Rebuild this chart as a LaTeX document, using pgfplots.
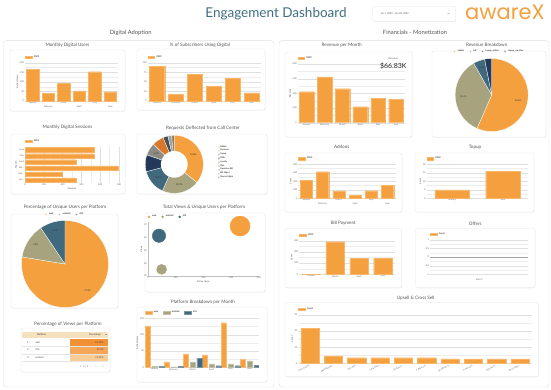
\documentclass[border=0pt]{standalone}
\usepackage{fontspec}
\setmainfont{Lato}
\newfontfamily\logofont{Poppins}
\usepackage{pgfplots}
\pgfplotsset{compat=1.18}
\usetikzlibrary{shadows}
\definecolor{org}{HTML}{F4A03F}
\definecolor{orgl}{HTML}{F7B66A}
\definecolor{olv}{HTML}{A6A37E}
\definecolor{tl}{HTML}{41697D}
\definecolor{nvy}{HTML}{22395A}
\definecolor{gry}{HTML}{8C8C84}
\definecolor{dorg}{HTML}{D9772B}
\definecolor{dgry}{HTML}{4E4E4E}
\definecolor{lblu}{HTML}{8FA3B3}
\definecolor{brn}{HTML}{9C7E55}
\definecolor{ttl}{HTML}{3F6E80}
\definecolor{txt}{HTML}{555555}
\definecolor{tc1}{HTML}{F29036}
\definecolor{tc2}{HTML}{F5A657}
\definecolor{tc3}{HTML}{F9CB95}
\definecolor{thd}{HTML}{F6E1BF}
\newcommand\fs[1]{\fontsize{#1}{#1}\selectfont}
\newcommand\pieslice[3]{\addplot[fill=#3, draw=white, line width=0.3pt, domain=#1:#2, samples=40, pieleg] ({cos(90-3.6*x)},{sin(90-3.6*x)}) -- (axis cs:0,0) -- cycle;}
\newcommand\plabel[3]{\node[font=\fs{2.3}, text=black!80] at (axis cs:{#2*cos(90-3.6*#1)},{#2*sin(90-3.6*#1)}) {#3};}
\tikzset{card/.style={draw=black!10, fill=white, rounded corners=2pt, line width=0.3pt, drop shadow={opacity=0.12, shadow xshift=0.4pt, shadow yshift=-0.6pt}},
  ctitle/.style={font=\fs{4.6}, text=txt}}
\newcommand\card[4]{\draw[card] (#1pt,-#2pt) rectangle (#3pt,-#4pt);}
\newcommand\ctitle[3]{\node[ctitle] at (#1pt,-#2pt) {#3};}
\pgfplotsset{
  pos/.style 2 args={at={(#1pt,-#2pt)}, anchor=north west},
  base/.style={scale only axis, axis line style={draw=none}, tick style={draw=none}, major tick length=0pt, minor tick length=0pt,
    tick label style={font=\fs{2.3}, text=black!60},
    xticklabel style={inner sep=0.8pt}, yticklabel style={inner sep=0.8pt},
    label style={font=\fs{2.3}, text=black!70, inner sep=0.8pt},
    /pgf/number format/assume math mode=true,
    grid style={line width=0.25pt, draw=black!12},
    minor grid style={line width=0.25pt, draw=black!7},
    legend style={font=\fs{2.3}, draw=none, fill=none, legend columns=-1, at={(0,1)}, anchor=south west, inner sep=0pt, outer sep=0pt, yshift=2pt, /tikz/every even column/.append style={column sep=3pt}},
    legend cell align=left},
  vbars/.style={base, ybar, ymajorgrids, yminorgrids, minor y tick num=1, ymin=0, xtick=data},
  barorg/.style={fill=org, draw=orgl, line width=0.25pt, legend image code/.code={\fill[##1] (0pt,-1.1pt) rectangle (6.5pt,1.1pt);}},
  barc/.style={fill=#1, draw=#1!70!white, line width=0.25pt, legend image code/.code={\fill[##1] (0pt,-1.1pt) rectangle (6.5pt,1.1pt);}},
  pieleg/.style={legend image code/.code={\fill[##1] (1pt,0pt) circle (1pt);}},
  dotleg/.style={legend image code/.code={\fill[##1] (1pt,0pt) circle (1pt);}},
}
\begin{document}
\begin{tikzpicture}
\useasboundingbox (0,0) rectangle (551pt,-389pt);
\fill[white] (0,0) rectangle (551pt,-389pt);
% header
\node[font=\fs{13.5}, text=ttl] at (276pt,-13.4pt) {Engagement Dashboard};
\draw[card] (372.7pt,-6.4pt) rectangle (455.8pt,-21.2pt);
\node[font=\fs{2.4}, text=black!70, anchor=west] at (377pt,-13.8pt) {Jan 1, 2022 - Jun 30, 2022};
\draw[black!50, line width=0.3pt] (447.5pt,-13pt) -- (448.5pt,-14pt) -- (449.5pt,-13pt);
\node[font=\logofont\fs{21}, text=org, anchor=west, inner sep=0pt] at (465pt,-12.5pt) {awareX};
\node[font=\fs{5.8}, text=txt] at (130.7pt,-32.8pt) {Digital Adoption};
\node[font=\fs{5.8}, text=txt] at (415pt,-32.8pt) {Financials - Monetization};
\draw[black!12, rounded corners=3pt, line width=0.4pt] (3.5pt,-40.6pt) rectangle (274pt,-387pt);
\draw[black!12, rounded corners=3pt, line width=0.4pt] (279pt,-40.6pt) rectangle (549pt,-387pt);
% cards
\card{10}{50}{125}{111}
\card{137}{49}{265}{110}
\card{11}{134}{125}{194}
\card{137}{134}{267}{194}
\card{11}{214}{118}{308}
\card{145}{213}{265}{292}
\card{21}{328}{110}{372}
\card{137}{307}{267}{382}
\card{285}{52}{412}{137}
\card{432}{51}{546}{137}
\card{285}{153}{402}{212}
\card{415}{153}{534}{212}
\card{285}{228.5}{401.7}{287.7}
\card{415.7}{228.5}{535}{287.7}
\card{285}{302.3}{538.3}{376.7}
% titles
\ctitle{67.5}{45}{Monthly Digital Users}
\ctitle{200}{45}{\% of Subscribers Using Digital}
\ctitle{67.5}{127.7}{Monthly Digital Sessions}
\ctitle{203}{127.7}{Requests Deflected from Call Center}
\ctitle{65}{207.7}{Percentage of Unique Users per Platform}
\ctitle{204}{206.7}{Total Views \& Unique Users per Platform}
\ctitle{68}{324}{Percentage of Views per Platform}
\ctitle{203}{301.7}{Platform Breakdown per Month}
\ctitle{341.7}{45}{Revenue per Month}
\ctitle{486.7}{45}{Revenue Breakdown}
\ctitle{341.7}{147.3}{Addons}
\ctitle{475}{147.3}{Topup}
\ctitle{343.3}{223.5}{Bill Payment}
\ctitle{475.3}{223.5}{Offers}
\ctitle{415.7}{297.7}{Upsell \& Cross Sell}

% Monthly Digital Users
\begin{axis}[vbars, pos={25}{62.7}, width=93pt, height=38.3pt, ymax=200, ytick={0,50,100,150,200}, xmin=-0.5, xmax=5.5, bar width=0.8,
  xtick={0,2,4}, xticklabels={January,March,May}, extra x ticks={1,3,5}, extra x tick labels={February,April,June}, extra x tick style={xticklabel style={yshift=-3.5pt}}, ylabel={Active Users}]
\addplot[barorg] coordinates {(0,165) (1,40) (2,93) (3,53) (4,153) (5,48)};
\legend{2022}
\end{axis}

% % of subscribers
\begin{axis}[vbars, pos={147.7}{62.7}, width=113.3pt, height=38.3pt, ymax=100, ytick={0,25,50,75,100}, xmin=-0.5, xmax=5.5, bar width=0.8,
  xticklabels={January,February,March,April,May,June}]
\addplot[barorg] coordinates {(0,90) (1,17) (2,70) (3,39) (4,59) (5,21)};
\legend{2022}
\end{axis}

% Monthly Digital Sessions
\begin{axis}[base, xbar, xmajorgrids, xminorgrids, minor x tick num=1, pos={25}{146.7}, width=94pt, height=36.3pt, xmin=0, xmax=500, xtick={0,100,200,300,400,500}, ymin=-0.5, ymax=5.5, ytick={0,1,2,3,4,5}, yticklabels={{Jan\ldots},{Feb\ldots},{Ma\ldots},April,May,June}, bar width=0.7, xlabel={Sessions}, ylabel={Month}]
\addplot[barorg] coordinates {(270,0) (196,1) (495,2) (270,3) (367,4) (367,5)};
\legend{2022}
\end{axis}

% Requests donut
\begin{axis}[base, pos={145.3}{135.3}, width=58pt, height=58pt, xmin=-1, xmax=1, ymin=-1, ymax=1, hide axis, clip=false,
  legend style={at={(1.25,0.5)}, anchor=west, legend columns=1, yshift=0pt, font=\fs{2.2}, row sep=0.3pt, nodes={inner sep=0.2pt}}]
\pieslice{0}{35.8}{org}
\pieslice{35.8}{56.7}{olv}
\pieslice{56.7}{70.9}{tl}
\pieslice{70.9}{80.3}{nvy}
\pieslice{80.3}{87.2}{gry}
\pieslice{87.2}{93.7}{dorg}
\pieslice{93.7}{96.5}{dgry}
\pieslice{96.5}{98.5}{lblu}
\pieslice{98.5}{100}{brn}
\addplot[fill=white, draw=none, domain=0:360, samples=60, forget plot] ({0.46*cos(x)},{0.46*sin(x)});
\plabel{17.9}{0.73}{35.8\%}
\plabel{46.25}{0.73}{20.9\%}
\plabel{63.8}{0.73}{14.2\%}
\plabel{75.6}{0.73}{9.4\%}
\plabel{83.75}{0.73}{6.9\%}
\legend{Addon,Payment,Topup,Offer,Loyalty,Plan,Paperless Bill,Bill Mgmt,Device Mgmt}
\end{axis}

% Unique users pie
\begin{axis}[base, pos={21.5}{220.5}, width=87pt, height=87pt, xmin=-1, xmax=1, ymin=-1, ymax=1, hide axis, clip=false,
  legend style={at={(0.5,1)}, anchor=south, yshift=0.5pt}]
\pieslice{0}{77.6}{org}
\pieslice{77.6}{90.6}{olv}
\pieslice{90.6}{100}{tl}
\plabel{38.8}{0.8}{77.6\%}
\plabel{84.1}{0.8}{13\%}
\plabel{95.3}{0.8}{9.4\%}
\legend{web,android,iOS}
\end{axis}

% Bubble chart
\begin{axis}[base, pos={147.7}{222.45}, width=111.3pt, height=53.55pt, xmin=0, xmax=400, ymin=30, ymax=72, xtick={0,100,200,300,400}, ytick={30,40,50,60,70},
  axis x line=bottom, axis y line=left, axis line style={draw=black!25, -}, clip=false, xlabel={Active Users}, ylabel={Views}]
\addplot[only marks, mark=*, mark size=10pt, color=org, dotleg] coordinates {(332,69.2)};
\addplot[only marks, mark=*, mark size=5pt, color=olv, dotleg] coordinates {(50,35.2)};
\addplot[only marks, mark=*, mark size=6.7pt, color=tl, dotleg] coordinates {(40.7,61.6)};
\legend{web,android,iOS}
\end{axis}

% Table
\fill[thd] (21.7pt,-331.7pt) rectangle (108.3pt,-337.8pt);
\node[font=\fs{2.4}, text=black!80] at (41.7pt,-334.7pt) {Platform};
\node[font=\fs{2.4}, text=black!80, anchor=east] at (104.5pt,-334.7pt) {Percentage};
\fill[black!60] (105.3pt,-334.2pt) -- (106.7pt,-334.2pt) -- (106pt,-335.2pt) -- cycle;
\fill[tc1] (70pt,-338.5pt) rectangle (108.3pt,-346.2pt);
\fill[tc2] (70pt,-346.2pt) rectangle (108.3pt,-353.8pt);
\fill[tc3] (70pt,-353.8pt) rectangle (108.3pt,-361.3pt);
\draw[black!10, line width=0.25pt] (21.7pt,-346.2pt) -- (108.3pt,-346.2pt) (21.7pt,-353.8pt) -- (108.3pt,-353.8pt) (21.7pt,-361.3pt) -- (108.3pt,-361.3pt);
\node[font=\fs{2.4}, text=black!75, anchor=west] at (23.5pt,-342.3pt) {1.};
\node[font=\fs{2.4}, text=black!75, anchor=west] at (32pt,-342.3pt) {web};
\node[font=\fs{2.4}, text=black!75, anchor=east] at (107pt,-342.3pt) {61.43\%};
\node[font=\fs{2.4}, text=black!75, anchor=west] at (23.5pt,-350pt) {2.};
\node[font=\fs{2.4}, text=black!75, anchor=west] at (32pt,-350pt) {iOS};
\node[font=\fs{2.4}, text=black!75, anchor=east] at (107pt,-350pt) {27.3\%};
\node[font=\fs{2.4}, text=black!75, anchor=west] at (23.5pt,-357.5pt) {3.};
\node[font=\fs{2.4}, text=black!75, anchor=west] at (32pt,-357.5pt) {android};
\node[font=\fs{2.4}, text=black!75, anchor=east] at (107pt,-357.5pt) {11.27\%};
\node[font=\fs{2.4}, text=black!60] at (84pt,-366.7pt) {1 - 3 / 3};
\node[font=\fs{3}, text=black!50] at (96pt,-366.7pt) {<};
\node[font=\fs{3}, text=black!50] at (103pt,-366.7pt) {>};

% Platform breakdown
\begin{axis}[vbars, pos={145}{318.3}, width=114pt, height=49pt, ymax=150, ytick={0,50,100,150}, xmin=-0.5, xmax=5.5, bar width=0.26,
  xticklabels={January,February,March,April,May,June}, ylabel={Active Users}]
\addplot[barc=org] coordinates {(0,126.5) (1,16.3) (2,40.8) (3,37.8) (4,136.7) (5,24.5)};
\addplot[barc=olv] coordinates {(0,3) (1,1) (2,16.3) (3,10.2) (4,10.2) (5,19.4)};
\addplot[barc=tl] coordinates {(0,4) (1,4) (2,27.6) (3,5) (4,5) (5,7)};
\legend{web,android,iOS}
\end{axis}

% Revenue per month
\begin{axis}[vbars, pos={297.7}{64}, width=107.3pt, height=58.7pt, ymax=800, ytick={0,200,400,600,800}, xmin=-0.5, xmax=5.5, bar width=0.82,
  xticklabels={January,February,March,April,May,June}, ylabel={Revenue}]
\addplot[barorg] coordinates {(0,422) (1,623) (2,464) (3,218) (4,332) (5,318)};
\legend{2022}
\end{axis}
\node[font=\fs{2.5}, text=black!60] at (393.3pt,-58.3pt) {Revenue};
\node[font=\fs{7}, text=black!85] at (393.3pt,-65.7pt) {\$66.83K};

% Revenue breakdown pie
\begin{axis}[base, pos={455.2}{58.5}, width=73pt, height=73pt, xmin=-1, xmax=1, ymin=-1, ymax=1, hide axis, clip=false,
  legend style={at={(0.47,1)}, anchor=south, yshift=1.5pt}]
\pieslice{0}{56.6}{org}
\pieslice{56.6}{91.8}{olv}
\pieslice{91.8}{96.9}{tl}
\pieslice{96.9}{100}{nvy}
\plabel{28.3}{0.74}{56.6\%}
\plabel{74.2}{0.78}{35.2\%}
\plabel{94.35}{0.8}{5.1\%}
\legend{addon,bill,topup\_online,topup\_voucher}
\end{axis}

% Addons
\begin{axis}[vbars, pos={298.3}{164.3}, width=97.4pt, height=34pt, ymax=800, ytick={0,200,400,600,800}, xmin=-0.5, xmax=5.5, bar width=0.75,
  xtick={0,2,4}, xticklabels={January,March,May}, extra x ticks={1,3,5}, extra x tick labels={February,April,June}, extra x tick style={xticklabel style={yshift=-3.5pt}}, ylabel={Count}]
\addplot[barorg] coordinates {(0,416) (1,627) (2,173) (3,71) (4,180) (5,306)};
\legend{2022}
\end{axis}

% Topup
\begin{axis}[vbars, pos={426.7}{164.3}, width=101.6pt, height=34pt, ymax=20, ytick={0,5,10,15,20}, xmin=-0.5, xmax=1.5, bar width=0.68,
  xticklabels={January,June}, ylabel={Count}]
\addplot[barorg] coordinates {(0,5) (1,16)};
\legend{2022}
\end{axis}

% Bill Payment
\begin{axis}[vbars, pos={299.3}{240.7}, width=95.7pt, height=33.6pt, ymax=300, ytick={0,100,200,300}, xmin=-0.5, xmax=3.5, bar width=0.78,
  xticklabels={January,March,April,May}, ylabel={Count}]
\addplot[barorg] coordinates {(0,0) (1,291) (2,142) (3,142)};
\legend{2022}
\end{axis}

% Offers
\begin{axis}[base, pos={430}{240}, width=98.3pt, height=34.3pt, xmin=0, xmax=1, ymin=-1, ymax=1, ytick={-1,-0.5,0,0.5,1}, xtick={0.5}, xticklabels={March}, xticklabel style={yshift=-3pt},
  ymajorgrids, yminorgrids, minor y tick num=1,
  extra y ticks={0}, extra y tick labels={}, extra y tick style={grid style={draw=black!35, line width=0.4pt}}]
\addlegendimage{barorg}
\addlegendentry{Count}
\end{axis}

% Upsell
\begin{axis}[vbars, pos={298.3}{315}, width=233.4pt, height=48.3pt, ymax=30, ytick={0,10,20,30}, xmin=-0.5, xmax=9.5, bar width=0.79,
  xticklabels={{One Confir\ldots},{Marketplace\ldots},{Inst wait\ldots},{1 day Plan\ldots},{10 days C\ldots},{7 days onl\ldots},{10 GB for 3\ldots},{7 days onl\ldots},{Special Cr\ldots},{30 Combin\ldots}},
  xticklabel style={rotate=28, anchor=north east, inner sep=0.5pt}, ylabel={Count}]
\addplot[barorg] coordinates {(0,21.7) (1,4.6) (2,3.5) (3,3.5) (4,3.5) (5,3.5) (6,2.7) (7,2.7) (8,2.7) (9,2.7)};
\legend{Count}
\end{axis}
\end{tikzpicture}
\end{document}
